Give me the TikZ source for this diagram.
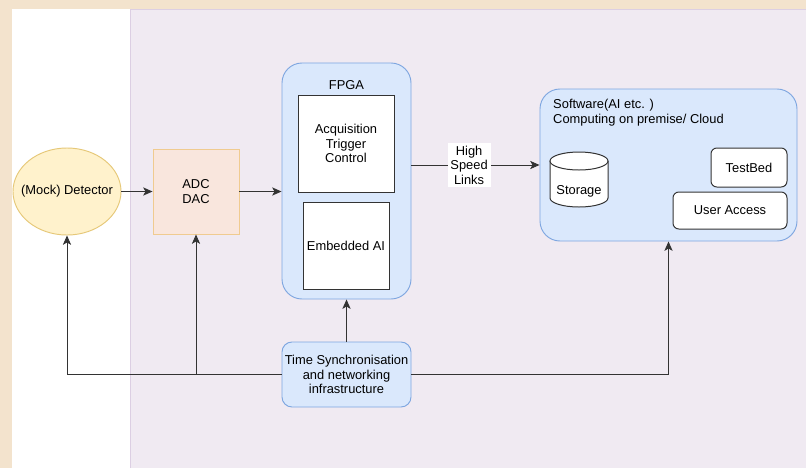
\documentclass[tikz,border=0pt]{standalone}
\usepackage{fontspec}
\setmainfont{Liberation Sans}
\usetikzlibrary{arrows.meta,shapes.geometric}

\definecolor{frame}{HTML}{F3E3CD}
\definecolor{lavender}{HTML}{F0EAF2}
\definecolor{lavline}{HTML}{DCCFE3}
\definecolor{yelfill}{HTML}{FFF2CC}
\definecolor{yelline}{HTML}{E6C878}
\definecolor{orfill}{HTML}{F9E6DD}
\definecolor{orline}{HTML}{F0CB90}
\definecolor{bluefill}{HTML}{DAE8FC}
\definecolor{blueline}{HTML}{7EA6E0}

\begin{document}
\begin{tikzpicture}[x=0.03cm,y=0.03cm,>={Stealth[length=8pt,width=7pt,inset=2pt]},
  every node/.style={font=\fontsize{11}{12.4}\selectfont,align=center,inner sep=0pt},
  link/.style={line width=0.8pt,draw=black!80},
  bluebox/.style={draw=blueline,fill=bluefill,line width=0.8pt},
  inbox/.style={draw=black!80,fill=white,line width=0.85pt}]
  % background
  \useasboundingbox (0,0) rectangle (806,-468);
  \fill[frame] (0,0) rectangle (806,-468);
  \fill[white] (12,-9) rectangle (130,-468);
  \fill[lavender] (130,-9) rectangle (806,-468);
  \draw[lavline,line width=0.6pt] (130,-468) -- (130,-9) -- (806,-9);

  % blocks
  \node[ellipse,draw=yelline,fill=yelfill,line width=0.8pt,minimum width=3.24cm,minimum height=2.61cm,
        label=center:{(Mock) Detector}] (det) at (67,-191.5) {};
  \node[draw=orline,fill=orfill,line width=0.8pt,minimum width=2.58cm,minimum height=2.55cm] (adc) at (196,-191.5) {ADC\\DAC};
  \node[bluebox,rounded corners=0.6cm,minimum width=3.87cm,minimum height=7.08cm] (fpga) at (346.5,-181) {};
  \node (fpgalbl) at (346.5,-85) {FPGA};
  \node[inbox,minimum width=2.88cm,minimum height=2.91cm] (acq) at (346,-143.5) {Acquisition\\Trigger\\Control};
  \node[inbox,minimum width=2.58cm,minimum height=2.61cm] (ai) at (346,-245.5) {Embedded AI};

  \node[bluebox,rounded corners=0.6cm,minimum width=7.71cm,minimum height=4.56cm] (sw) at (668.5,-165) {};
  \node[anchor=north west,align=left] (swlbl) at (553,-99) {Software(AI etc. )\\Computing on premise/ Cloud};
  % storage cylinder
  \filldraw[inbox] (550,-161) -- (550,-198) arc[start angle=180,end angle=360,x radius=29,y radius=9] -- (608,-161);
  \draw[inbox] (579,-161) ellipse[x radius=29,y radius=9];
  \node (store) at (579,-191) {Storage};
  \node[inbox,rounded corners=5pt,minimum width=2.28cm,minimum height=1.17cm] (bed) at (749,-167.5) {TestBed};
  \node[inbox,rounded corners=5pt,minimum width=3.42cm,minimum height=1.11cm] (user) at (730,-210.5) {User Access};

  \node[bluebox,rounded corners=0.3cm,minimum width=3.87cm,minimum height=1.95cm] (time) at (346.5,-374.5) {Time Synchronisation\\and networking\\infrastructure};

  % connectors
  \draw[link,->] (det.east) -- (adc.west);
  \draw[link,->] (adc.east) -- (adc.east -| fpga.west);
  \draw[link,->] (fpga.east |- sw.west) -- node[pos=0.45,fill=white,inner sep=2.5pt] (hsl) {High\\Speed\\Links} (sw.west);
  \draw[link,->] (time.west) -| (det.south);
  \draw[link,->] (time.west) -| (adc.south);
  \draw[link,->] (time.north) -- (fpga.south);
  \draw[link,->] (time.east) -| (sw.south);
\end{tikzpicture}
\end{document}
